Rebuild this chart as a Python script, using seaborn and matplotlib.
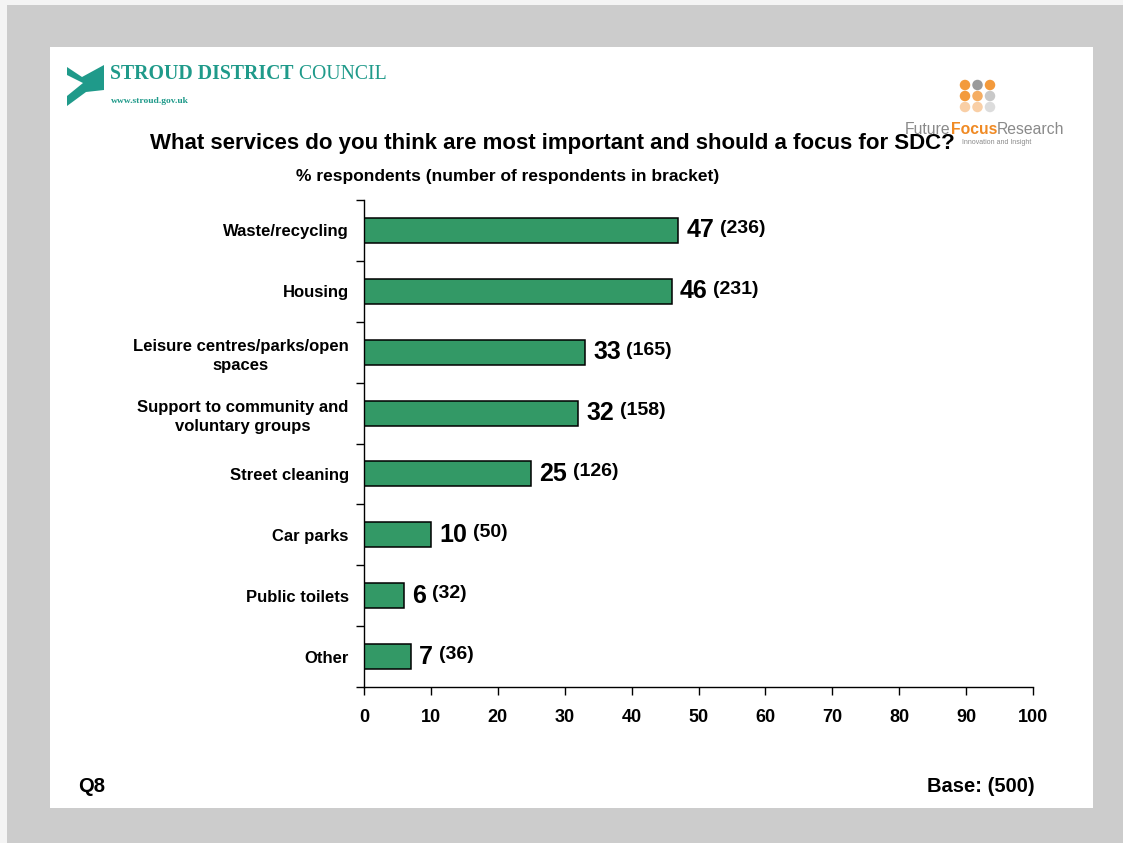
import matplotlib
matplotlib.use("Agg")
import matplotlib.pyplot as plt
from matplotlib.patches import Rectangle, Polygon, Ellipse
import numpy as np
import pandas as pd
import seaborn as sns

# Survey results: Q8 service priorities
services = [
    "Waste/recycling",
    "Housing",
    "Leisure centres/parks/open\nspaces",
    "Support to community and\nvoluntary groups",
    "Street cleaning",
    "Car parks",
    "Public toilets",
    "Other",
]
percent = [47, 46, 33, 32, 25, 10, 6, 7]
counts = [236, 231, 165, 158, 126, 50, 32, 36]
x_ticks = [0, 10, 20, 30, 40, 50, 60, 70, 80, 90, 100]

title = "What services do you think are most important and should a focus for SDC?"
subtitle = "% respondents (number of respondents in bracket)"
question = "Q8"
base = "Base: (500)"

W, H = 1123, 843
sns.set_theme(style="white")
plt.rcParams["font.family"] = ["Liberation Sans", "DejaVu Sans"]
for key in ["text.color", "axes.labelcolor", "xtick.color", "ytick.color"]:
    plt.rcParams[key] = "black"

fig = plt.figure(figsize=(W / 100, H / 100), dpi=100)
fig.patch.set_facecolor("#cccccc")


def fx(x):
    return x / W


def fy(y):
    return 1 - y / H


# page frame
fig.patches.append(Rectangle((0, fy(5)), 1, 5 / H, transform=fig.transFigure,
                             facecolor="#f4f4f4", edgecolor="none", zorder=-2))
fig.patches.append(Rectangle((0, 0), 7 / W, 1, transform=fig.transFigure,
                             facecolor="#f4f4f4", edgecolor="none", zorder=-2))
fig.patches.append(Rectangle((fx(50), fy(808)), (1093 - 50) / W, (808 - 47) / H,
                             transform=fig.transFigure, facecolor="white",
                             edgecolor="none", zorder=-1))

ax = fig.add_axes([fx(364), fy(687), (1033 - 364) / W, (687 - 200) / H])
ax.set_zorder(2)
ax.set_facecolor("none")

df = pd.DataFrame({"service": services, "percent": percent})
sns.barplot(data=df, x="percent", y="service", orient="h", color="#339966",
            saturation=1, width=0.41, edgecolor="black", linewidth=1.1, ax=ax)

ax.set_xlim(0, 100)
ax.set_ylim(len(services) - 0.5, -0.5)
ax.set_xticks(x_ticks)
ax.set_xticklabels([str(t) for t in x_ticks], fontsize=13, fontweight="bold")
ax.set_xlabel("")
ax.set_ylabel("")
ax.tick_params(axis="x", direction="out", length=6, width=1, color="black",
               pad=10, bottom=True)
ax.tick_params(axis="y", which="major", length=0, pad=11)
ax.set_yticks(np.arange(-0.5, len(services), 1), minor=True)
ax.tick_params(axis="y", which="minor", direction="out", length=6, width=1,
               color="black", left=True)
for lab in ax.get_yticklabels():
    lab.set_fontsize(12)
    lab.set_fontweight("bold")
    lab.set_multialignment("center")
    lab.set_linespacing(1.4)

for s in ["top", "right"]:
    ax.spines[s].set_visible(False)
for s in ["left", "bottom"]:
    ax.spines[s].set_color("black")
    ax.spines[s].set_linewidth(1)

# value labels with respondent counts
for i, (p, c) in enumerate(zip(percent, counts)):
    t = ax.annotate(str(p), xy=(p, i), xytext=(6, 0), textcoords="offset points",
                    ha="left", va="center", fontsize=18, fontweight="bold")
    ax.annotate(f"({c})", xy=(1, 0.5), xycoords=t, xytext=(4, 1.5),
                textcoords="offset points", ha="left", va="center",
                fontsize=14, fontweight="bold")

# titles
fig.text(fx(552), fy(143), title, ha="center", va="center", fontsize=16,
         fontweight="bold", zorder=3)
fig.text(fx(508), fy(177), subtitle, ha="center", va="center", fontsize=12.5,
         fontweight="bold")
fig.text(fx(78), fy(787), question, ha="left", va="center", fontsize=14.5,
         fontweight="bold")
fig.text(fx(1035), fy(787), base, ha="right", va="center", fontsize=14.5,
         fontweight="bold")

# council logo
teal = "#1f9a8a"
serif = ["Liberation Serif", "DejaVu Serif"]
icon = [(67, 67), (82, 77), (104, 65), (104, 90), (86, 92), (67, 106), (67, 96),
        (83, 83), (67, 75)]
fig.patches.append(Polygon([(fx(x), fy(y)) for x, y in icon], closed=True,
                           transform=fig.transFigure, facecolor=teal,
                           edgecolor="none", zorder=2))
t1 = fig.text(fx(110), fy(74), "STROUD DISTRICT", ha="left", va="center",
              fontsize=14.2, fontweight="bold", color=teal, family=serif)
ax.annotate(" COUNCIL", xy=(1, 0), xycoords=t1, ha="left", va="bottom",
            fontsize=14.2, color=teal, family=serif, annotation_clip=False)
fig.text(fx(111), fy(101), "www.stroud.gov.uk", ha="left", va="center",
         fontsize=6.8, fontweight="bold", color=teal, family=serif)

# research agency logo
dot_colors = [
    ["#f39a3c", "#9a9a9a", "#f39a3c"],
    ["#f39a3c", "#f5ad62", "#c8c8c8"],
    ["#f9cfa6", "#f9cfa6", "#dcdcdc"],
]
for r, row in enumerate(dot_colors):
    for c, col in enumerate(row):
        cx, cy = 965 + c * 12.5, 85 + r * 11
        fig.patches.append(Ellipse((fx(cx), fy(cy)), 10.5 / W, 10.5 / H,
                                   transform=fig.transFigure, facecolor=col,
                                   edgecolor="none", zorder=2))
r1 = fig.text(fx(905), fy(129), "Future", ha="left", va="center", fontsize=11.3,
              color="#8a8a8a", zorder=1)
r2 = ax.annotate("Focus", xy=(1, 0), xycoords=r1, ha="left", va="bottom",
                 fontsize=11.3, fontweight="bold", color="#f08a24",
                 annotation_clip=False)
ax.annotate("Research", xy=(1, 0), xycoords=r2, ha="left", va="bottom",
            fontsize=11.3, color="#8a8a8a", annotation_clip=False)
fig.text(fx(962), fy(142), "Innovation and Insight", ha="left", va="center",
         fontsize=5, color="#8a8a8a")

fig.savefig("out.png", dpi=100, facecolor=fig.get_facecolor())
